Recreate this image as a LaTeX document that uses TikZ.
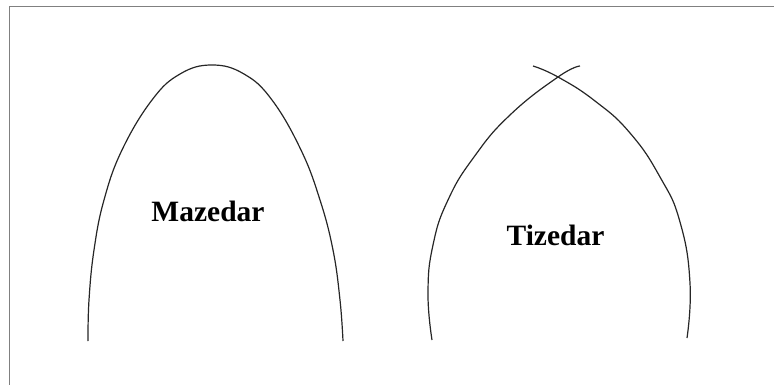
\documentclass[tikz,border=0pt]{standalone}
\usepackage{fontspec}
\setmainfont{Liberation Serif}
\usepackage{tikz}
\usetikzlibrary{positioning}

\begin{document}
\begin{tikzpicture}[
    x=1pt, y=-1pt,
    frame/.style={draw=black!50, line width=1.5pt},
    arch/.style={draw=black!85, line width=1.2pt, line join=round},
    archlabel/.style={font=\fontsize{29.5}{31}\selectfont\bfseries, inner sep=0pt, anchor=base},
  ]
  \useasboundingbox (0,0) rectangle (774,385);

  % frame (top and left edge only)
  \draw[frame] (9.5,385) -- (9.5,6.5) -- (774,6.5);

  % round arch
  \draw[arch] plot[smooth, tension=0.7] coordinates {
    (88,341) (89,300) (94,250) (104,200) (122,150) (152,100) (180,74) (212,65)
    (244,74) (272,100) (301,150) (320,200) (333,250) (340,300) (343,341)};

  % pointed arch: two crossing branches
  \draw[arch] plot[smooth, tension=0.8] coordinates {
    (432,340) (428,293) (433,245) (448,200) (474,157) (510,115) (558,77) (580,66)};
  \draw[arch] plot[smooth, tension=0.8] coordinates {
    (533,66) (558,77) (595,101) (630,133) (660,177) (680,222) (690,283) (687,338)};

  % labels
  \node[archlabel] (maz) at (208,222) {Mazedar};
  \node[archlabel] (tiz) at (555.5,245) {Tizedar};
\end{tikzpicture}
\end{document}
